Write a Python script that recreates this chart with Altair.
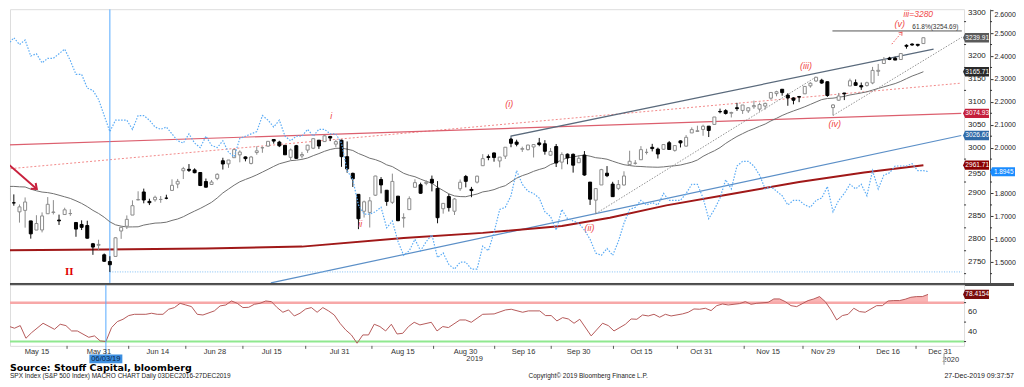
import altair as alt
import pandas as pd

# ---------------- data ----------------
# S&P 500 daily candles, trading-day index 0 (7 May 2019) .. 162 (26 Dec 2019)
opens = [2913.03, 2879.61, 2859.84, 2863.10, 2840.19, 2820.12, 2820.38, 2855.80, 2858.60, 2841.94,
         2854.02, 2856.06, 2836.70, 2832.41, 2830.03, 2790.25, 2786.94, 2766.15, 2751.53, 2762.64,
         2818.09, 2828.51, 2852.87, 2885.83, 2903.27, 2882.73, 2886.24, 2886.82, 2889.75, 2906.71,
         2920.55, 2949.60, 2952.71, 2951.42, 2945.78, 2926.07, 2919.66, 2932.94, 2971.41, 2964.66,
         2978.08, 2984.25, 2979.77, 2965.52, 2989.30, 2999.62, 3003.36, 3017.80, 3012.13, 3005.10,
         2978.87, 3004.26, 2981.93, 2994.74, 2998.77, 3016.26, 3013.25, 3024.47, 3007.66, 3016.22,
         2980.32, 2943.90, 2898.07, 2861.18, 2858.65, 2896.21, 2930.51, 2907.07, 2880.72, 2894.15,
         2846.20, 2864.74, 2913.48, 2919.01, 2922.04, 2930.94, 2911.07, 2866.70, 2893.14, 2861.28,
         2910.37, 2937.09, 2909.01, 2924.67, 2960.60, 2980.33, 2988.43, 2971.01, 2981.41, 3018.46,
         3012.21, 2996.41, 2995.67, 3001.50, 3010.36, 3008.42, 2983.50, 3002.43, 2968.35, 2985.73,
         2985.47, 2967.07, 2983.69, 2924.78, 2885.38, 2918.56, 2944.23, 2920.40, 2911.10, 2918.55,
         2963.07, 2965.81, 2973.61, 2989.68, 3000.77, 2996.84, 2996.48, 3010.73, 2994.01, 3014.78,
         3003.32, 3032.12, 3035.39, 3039.74, 3046.90, 3050.72, 3078.96, 3080.80, 3075.10, 3087.02,
         3081.25, 3080.33, 3089.28, 3084.18, 3090.75, 3107.92, 3117.91, 3127.45, 3114.66, 3108.49,
         3111.41, 3117.44, 3134.85, 3145.49, 3147.18, 3143.85, 3087.41, 3103.50, 3119.21, 3134.62,
         3141.86, 3135.36, 3135.75, 3141.23, 3166.65, 3183.63, 3195.40, 3195.21, 3192.32, 3223.33,
         3226.05, 3225.45, 3227.20]
highs = [2913.03, 2897.96, 2875.97, 2891.31, 2840.19, 2852.54, 2858.68, 2892.15, 2885.48, 2853.86,
         2868.88, 2865.47, 2836.70, 2841.36, 2840.51, 2792.03, 2799.00, 2768.98, 2763.07, 2804.49,
         2827.28, 2852.10, 2884.97, 2904.77, 2910.61, 2888.57, 2895.24, 2894.45, 2897.27, 2930.79,
         2931.74, 2958.06, 2964.15, 2954.92, 2946.52, 2932.59, 2929.30, 2943.98, 2977.93, 2973.21,
         2995.84, 2994.03, 2980.76, 2981.90, 3002.98, 3002.33, 3013.92, 3017.80, 3015.02, 3005.26,
         2998.28, 3006.02, 2990.71, 3005.90, 3019.59, 3016.31, 3027.98, 3025.61, 3017.19, 3017.40,
         3013.59, 2945.50, 2898.07, 2884.40, 2892.17, 2938.72, 2935.75, 2907.58, 2943.31, 2894.15,
         2856.67, 2893.63, 2931.00, 2923.63, 2928.73, 2939.08, 2927.01, 2879.27, 2898.79, 2890.03,
         2930.50, 2940.43, 2914.39, 2938.84, 2985.86, 2985.03, 2989.43, 2979.39, 3000.93, 3020.98,
         3017.33, 3002.19, 3006.21, 3007.83, 3021.19, 3016.37, 2999.15, 3007.98, 2989.82, 2987.28,
         2987.31, 2983.85, 2992.53, 2924.78, 2911.13, 2953.74, 2959.75, 2925.47, 2929.32, 2948.46,
         2993.28, 2972.84, 3003.28, 2997.54, 3008.29, 3000.00, 3007.33, 3014.57, 3004.78, 3016.07,
         3027.39, 3044.08, 3047.87, 3050.10, 3046.90, 3066.95, 3085.20, 3083.95, 3078.34, 3097.77,
         3093.09, 3088.33, 3102.61, 3098.06, 3098.20, 3120.46, 3124.17, 3127.64, 3118.97, 3110.11,
         3112.87, 3133.83, 3142.69, 3154.26, 3150.30, 3144.31, 3094.97, 3119.38, 3119.45, 3150.60,
         3148.87, 3142.12, 3143.98, 3176.28, 3182.68, 3197.71, 3198.22, 3198.48, 3205.48, 3225.65,
         3227.78, 3226.43, 3240.08]
lows = [2862.60, 2873.28, 2836.40, 2825.39, 2801.43, 2820.12, 2815.08, 2855.80, 2854.23, 2831.29,
        2854.02, 2851.11, 2805.49, 2820.19, 2801.58, 2766.06, 2776.74, 2750.52, 2728.81, 2762.64,
        2800.92, 2822.45, 2852.87, 2885.51, 2878.53, 2874.68, 2881.99, 2879.62, 2887.30, 2905.44,
        2911.43, 2931.50, 2946.87, 2944.05, 2916.01, 2912.99, 2918.57, 2929.05, 2952.22, 2955.92,
        2977.96, 2967.97, 2970.09, 2963.44, 2984.62, 2988.80, 3001.87, 3008.77, 3001.15, 2984.25,
        2973.09, 2975.86, 2976.65, 2988.56, 2996.82, 2997.24, 3012.59, 3014.30, 3000.94, 2958.08,
        2945.23, 2914.11, 2822.12, 2847.42, 2825.71, 2894.47, 2900.15, 2873.14, 2877.05, 2839.64,
        2825.51, 2864.74, 2913.48, 2899.60, 2917.91, 2904.51, 2834.97, 2856.00, 2860.59, 2853.05,
        2905.67, 2913.32, 2891.85, 2921.86, 2960.60, 2972.51, 2969.39, 2957.01, 2975.31, 3000.92,
        3002.90, 2990.67, 2993.73, 2978.57, 3003.16, 2984.68, 2982.23, 2957.73, 2952.86, 2963.71,
        2945.53, 2967.07, 2938.70, 2874.93, 2855.94, 2918.56, 2935.68, 2892.66, 2907.41, 2917.12,
        2963.07, 2962.94, 2973.61, 2985.20, 2991.79, 2976.31, 2995.35, 2995.04, 2991.21, 3000.42,
        3001.94, 3032.12, 3034.81, 3025.96, 3023.19, 3050.72, 3074.87, 3072.15, 3065.89, 3080.23,
        3073.58, 3075.82, 3084.73, 3078.80, 3083.26, 3104.60, 3112.06, 3113.47, 3091.41, 3094.55,
        3099.26, 3117.44, 3131.00, 3143.41, 3139.34, 3110.78, 3070.33, 3102.53, 3103.76, 3134.62,
        3135.46, 3126.09, 3133.21, 3138.47, 3156.51, 3183.63, 3191.03, 3191.14, 3192.32, 3216.03,
        3222.30, 3220.51, 3227.20]
closes = [2884.05, 2879.42, 2870.72, 2881.40, 2811.87, 2834.41, 2850.96, 2876.32, 2859.53, 2840.23,
          2864.36, 2856.27, 2822.24, 2826.06, 2802.39, 2783.02, 2788.86, 2752.06, 2744.45, 2803.27,
          2826.15, 2843.49, 2873.34, 2886.73, 2885.72, 2879.84, 2891.64, 2886.98, 2889.67, 2917.75,
          2926.46, 2954.18, 2950.46, 2945.35, 2917.38, 2913.78, 2924.92, 2941.76, 2964.33, 2973.01,
          2995.82, 2990.41, 2975.95, 2979.63, 2993.07, 2999.91, 3013.77, 3014.30, 3004.04, 2984.42,
          2995.11, 2976.61, 2985.03, 3005.47, 3019.56, 3003.67, 3025.86, 3020.97, 3013.18, 2980.38,
          2953.56, 2932.05, 2844.74, 2881.77, 2883.98, 2938.09, 2918.65, 2882.70, 2926.32, 2840.60,
          2847.60, 2888.68, 2923.65, 2900.51, 2924.43, 2922.95, 2847.11, 2878.38, 2869.16, 2887.94,
          2924.58, 2926.46, 2906.27, 2937.78, 2976.00, 2978.71, 2978.43, 2979.39, 3000.93, 3009.57,
          3007.39, 2997.96, 3005.70, 3006.73, 3006.79, 2992.07, 2991.78, 2966.60, 2984.87, 2977.62,
          2961.79, 2976.74, 2940.25, 2887.61, 2910.63, 2952.01, 2938.79, 2893.06, 2919.40, 2938.13,
          2970.27, 2966.15, 2995.68, 2989.69, 2997.95, 2986.20, 3006.72, 2995.99, 3004.52, 3010.29,
          3022.55, 3039.42, 3036.89, 3046.77, 3037.56, 3066.91, 3078.27, 3074.62, 3076.78, 3085.18,
          3093.08, 3087.01, 3091.84, 3094.04, 3096.63, 3120.46, 3122.03, 3120.18, 3108.46, 3103.54,
          3110.29, 3133.64, 3140.52, 3153.63, 3140.98, 3113.87, 3093.20, 3112.76, 3117.43, 3145.91,
          3135.96, 3132.52, 3141.63, 3168.57, 3168.80, 3191.45, 3192.52, 3191.14, 3205.37, 3221.22,
          3224.01, 3223.38, 3239.91]
# closes of the 19 sessions before 7 May (feed the 20-day average)
prior_closes = [2878.20, 2888.21, 2888.32, 2907.41, 2905.58, 2907.06, 2900.45, 2905.03, 2907.97, 2933.68,
                2927.25, 2926.17, 2939.88, 2943.03, 2945.83, 2923.73, 2917.52, 2945.64, 2932.47]
# US 10y yield (right-hand scale), index 0..163
yields = [2.45, 2.48, 2.45, 2.47, 2.40, 2.41, 2.37, 2.39, 2.39, 2.41,
          2.43, 2.38, 2.32, 2.32, 2.26, 2.25, 2.21, 2.14, 2.07, 2.12,
          2.12, 2.12, 2.08, 2.14, 2.14, 2.12, 2.09, 2.08, 2.09, 2.06,
          2.03, 2.02, 2.06, 2.02, 2.00, 2.05, 2.01, 2.00, 2.03, 1.98,
          1.96, 2.04, 2.05, 2.06, 2.07, 2.14, 2.12, 2.09, 2.12, 2.05,
          2.03, 2.05, 2.05, 2.08, 2.05, 2.08, 2.08, 2.06, 2.06, 2.02,
          1.90, 1.86, 1.75, 1.71, 1.71, 1.72, 1.74, 1.65, 1.68, 1.59,
          1.53, 1.55, 1.60, 1.55, 1.59, 1.62, 1.52, 1.54, 1.49, 1.47,
          1.50, 1.50, 1.47, 1.47, 1.57, 1.55, 1.63, 1.73, 1.74, 1.79,
          1.90, 1.84, 1.81, 1.80, 1.78, 1.72, 1.70, 1.64, 1.73, 1.69,
          1.68, 1.67, 1.64, 1.60, 1.54, 1.53, 1.56, 1.53, 1.59, 1.67,
          1.73, 1.74, 1.77, 1.75, 1.76, 1.75, 1.80, 1.77, 1.77, 1.77,
          1.80, 1.84, 1.84, 1.78, 1.69, 1.73, 1.78, 1.86, 1.82, 1.92,
          1.94, 1.94, 1.92, 1.88, 1.82, 1.83, 1.81, 1.79, 1.75, 1.77,
          1.77, 1.75, 1.74, 1.77, 1.78, 1.83, 1.72, 1.77, 1.80, 1.84,
          1.82, 1.84, 1.79, 1.90, 1.82, 1.88, 1.89, 1.92, 1.92, 1.92,
          1.93, 1.90, 1.90, 1.8945]
# RSI (lower panel)
rsi_idx = [0, 1, 2, 3, 4, 5, 7, 9, 10, 11, 12, 13, 15, 16, 17, 18, 19, 20, 21, 22,
           23, 25, 26, 27, 28, 29, 30, 31, 32, 33, 34, 35, 37, 38, 39, 40, 41, 42, 43, 44,
           45, 46, 47, 48, 49, 50, 51, 52, 53, 54, 55, 56, 57, 58, 59, 60, 61, 62, 63, 64,
           65, 66, 67, 68, 69, 70, 71, 72, 73, 75, 76, 77, 78, 80, 81, 82, 84, 86, 88, 89,
           91, 92, 94, 95, 96, 97, 98, 99, 100, 101, 103, 105, 106, 107, 109, 110, 111, 112, 113, 114,
           115, 116, 117, 119, 120, 121, 122, 123, 124, 125, 126, 127, 129, 130, 131, 132, 134, 135, 136, 137,
           138, 139, 141, 142, 143, 144, 145, 146, 147, 148, 149, 150, 151, 153, 154, 155, 156, 157, 158, 159,
           160, 161, 162]
rsi_val = [47.8, 45.7, 43.7, 46.4, 33.4, 39.2, 48.8, 42.6, 47.8, 46.4, 40.9, 40.9, 34.4, 35.8, 30.7, 30.0, 44.4, 50.5, 52.9, 56.7,
           58.0, 58.0, 59.1, 58.0, 58.0, 63.2, 64.9, 69.3, 67.6, 65.9, 58.0, 57.3, 61.5, 66.6, 67.6, 71.7, 69.3, 64.9, 65.2, 68.3,
           69.3, 71.7, 71.0, 64.9, 60.1, 62.5, 56.3, 59.1, 63.5, 64.9, 60.1, 64.9, 61.5, 57.3, 48.8, 42.0, 36.8, 28.3, 36.8, 36.8,
           47.8, 45.4, 40.9, 47.8, 37.8, 38.5, 45.4, 49.8, 47.1, 49.8, 40.9, 45.4, 44.4, 52.2, 52.2, 49.8, 58.0, 58.4, 62.5, 63.2,
           60.1, 61.5, 61.5, 56.7, 56.7, 51.2, 54.6, 53.2, 48.8, 52.9, 35.8, 48.8, 46.4, 40.9, 47.8, 53.2, 52.9, 57.3, 56.3, 58.0,
           55.0, 58.0, 56.3, 58.4, 60.1, 63.5, 63.2, 64.2, 61.8, 66.9, 68.6, 67.6, 69.0, 71.0, 68.3, 69.3, 70.3, 73.8, 73.8, 71.0,
           66.9, 65.9, 72.1, 73.8, 76.2, 71.0, 62.5, 52.2, 56.7, 58.0, 64.2, 60.8, 60.1, 66.9, 66.9, 71.7, 72.1, 72.1, 73.5, 75.5,
           76.2, 76.2, 78.4154]

# axis ticks (3250 sits under the 3239.91 tag, 1.9000 under the 1.8945 tag)
spx_labels = [2750, 2800, 2850, 2900, 3000, 3050, 3100, 3150, 3200]
spx_label_low = [2950]
spx_label_top = [3300]
spx_ticks = [2750, 2800, 2850, 2900, 2950, 3000, 3050, 3100, 3150, 3200, 3250, 3300]
spx_minor = [2725, 2775, 2825, 2875, 2925, 2975, 3025, 3075, 3125, 3175, 3225, 3275]
yld_labels = [1.5, 1.6, 1.7, 1.8, 2.0, 2.1, 2.2, 2.3, 2.4, 2.5, 2.6]
yld_minor = [1.45, 1.55, 1.65, 1.75, 1.85, 1.9, 1.95, 2.05, 2.15, 2.25, 2.35, 2.45, 2.55]
rsi_labels = [40, 60]
rsi_minor = [30, 50, 70, 80]

# x-axis labels and ticks (trading-day positions)
tick_labels = ["May 15", "May 31", "Jun 14", "Jun 28", "Jul 15", "Jul 31", "Aug 15", "Aug 30",
               "Sep 16", "Sep 30", "Oct 15", "Oct 31", "Nov 15", "Nov 29", "Dec 16", "Dec 31"]
tick_label_pos = [5.93, 16.78, 27.1, 37.1, 47.05, 58.95, 70.0, 81.0,
                  91.15, 100.8, 111.8, 122.3, 134.0, 143.6, 155.0, 164.1]
minor_tick_pos = [11.2, 22.0, 32.0, 42.0, 53.0, 64.6, 75.4, 86.1, 96.0, 106.9, 118.1, 129.8, 140.1, 150.0, 159.9]

# trend lines (trading-day index, SPX level)
red_solid_x, red_solid_y = [-0.3, 168.7], [3005.7, 3074.93]
red_dot_x, red_dot_y = [-0.3, 168.7], [2953.4, 3140.8]
blue_x, blue_y = [46.5, 168.7], [2704.8, 3026.6]
sma200_x = [0, 17, 35, 52, 70, 84, 98, 106.5, 116.5, 128, 140, 151.5, 162]
sma200_y = [2776, 2777.5, 2780, 2784, 2803, 2814, 2829, 2847, 2874, 2899, 2925, 2946, 2961.71]
chan_x, chan_y = [89.0, 89.0, 163.8], [3008.0, 3025.3, 3214.9]
dot1_x, dot1_y = [104, 143], [2855.9, 3154.3]
dot2_x, dot2_y = [146, 168.8], [3070.3, 3241.0]
fib_x, fib_y = [145.9, 168.8], [3254.69, 3254.69]
jlow_x, jlow_y = [18, 168.8], [2728.81, 2728.81]
arrow_x, arrow_y = [-0.2, 5.06], [2966.4, 2909.8]
varrow_x, varrow_y = [156.4, 158.2], [3225.9, 3252.0]
vline_idx = [18]

wave_txt = ["i", "ii", "(i)", "(ii)", "(iii)", "(iv)", "(v)"]
wave_idx = [57.2, 62.3, 88.7, 102.9, 141.2, 146.3, 157.8]
wave_val = [3068.9, 2833.5, 3095.0, 2824.8, 3177.9, 3051.5, 3269.5]

# ---------------- chart ----------------
W, H1, H2 = 955, 274, 61
YOFF = 26
FONT = "Liberation Sans"
XS = alt.Scale(domain=[1.207, 168.31], nice=False, zero=False)
SPX = alt.Scale(domain=[2704.8, 3302.2], nice=False, zero=False)
YLD = alt.Scale(domain=[1.4096, 2.6044], nice=False, zero=False)
RSI = alt.Scale(domain=[25.6, 88.2], nice=False, zero=False)
TAG = "M-1,0 L-0.84,-0.36 L1,-0.36 L1,0.36 L-0.84,0.36 Z"
RECT = "M-1,-0.27 L1,-0.27 L1,0.27 L-1,0.27 Z"
CHEV = "M-1,-0.8 L0,0 L-1,0.8"


def X():
    return alt.X("idx:Q", scale=XS, axis=None)


def Yq(field, scale, axis=None):
    return alt.Y(f"{field}:Q", scale=scale, axis=axis)


def one():
    return pd.DataFrame({"k": [0]})


def line(xs, ys, color, width=1.0, dash=None, scale=SPX, opacity=1.0):
    d = pd.DataFrame({"idx": xs, "v": ys, "o": list(range(len(xs)))})
    kw = dict(color=color, strokeWidth=width, clip=True, opacity=opacity)
    if dash:
        kw["strokeDash"] = dash
    return alt.Chart(d).mark_line(**kw).encode(x=X(), y=Yq("v", scale), order="o:Q")


def label(xs, ys, texts, color, size, scale=SPX, style="normal", weight="normal",
          font=FONT, align="center", baseline="middle"):
    d = pd.DataFrame({"idx": xs, "v": ys, "t": texts})
    return alt.Chart(d).mark_text(color=color, fontSize=size, fontStyle=style, fontWeight=weight,
                                  font=font, align=align, baseline=baseline, clip=False).encode(
        x=X(), y=Yq("v", scale), text="t:N")


def head(x, y, angle, color, size, sw=1.0, scale=SPX):
    d = pd.DataFrame({"idx": [x], "v": [y]})
    return alt.Chart(d).mark_point(shape=CHEV, size=size, angle=angle, filled=False, color=color,
                                   strokeWidth=sw, opacity=1, clip=False).encode(x=X(), y=Yq("v", scale))


def tag(v, text, fill, xc, scale, size=676, fs=6.6):
    d = pd.DataFrame({"v": [v], "t": [text]})
    box = alt.Chart(d).mark_point(shape=TAG, size=size, filled=True, color=fill, opacity=1,
                                  strokeWidth=0, clip=False).encode(x=alt.value(xc), y=Yq("v", scale))
    txt = alt.Chart(d).mark_text(color="white", fontSize=fs, font=FONT, align="center",
                                 baseline="middle", clip=False).encode(
        x=alt.value(xc + 1.2), y=Yq("v", scale), text="t:N")
    return [box, txt]


def minor(vals, scale, x0):
    d = pd.DataFrame({"v": vals})
    return alt.Chart(d).mark_rule(color="#333", strokeWidth=1, clip=False).encode(
        y=Yq("v", scale), x=alt.value(x0), x2=alt.value(x0 + 2))


def tick_text(vals, scale, x0, size=8, baseline="middle", dy=0):
    d = pd.DataFrame({"v": vals})
    return alt.Chart(d).mark_text(align="left", baseline=baseline, dy=dy, fontSize=size, font=FONT,
                                  color="#222", clip=False).encode(
        x=alt.value(x0), y=Yq("v", scale), text=alt.Text("v:Q", format="d"))


def free_text(text, x, y, size, color="#222", weight="normal", align="left", font=FONT):
    return alt.Chart(one()).mark_text(text=text, fontSize=size, fontWeight=weight, color=color,
                                      align=align, baseline="middle", font=font, clip=False).encode(
        x=alt.value(x), y=alt.value(y))


def yaxis(values, fmt, size, offset=0, flush=0, labels=True):
    kw = dict(orient="right", values=values, format=fmt, tickSize=3, tickColor="#333",
              domainColor="#666", labelColor="#222", labelFont=FONT, labelFontSize=size,
              labelPadding=1, labelOverlap=False, grid=False, title=None, labels=labels)
    if offset:
        kw["offset"] = offset
    if flush:
        kw["labelFlush"] = flush
    return alt.Axis(**kw)


spx_axis = yaxis(spx_ticks, "d", 8, labels=False)
yld_axis = yaxis(yld_labels, ".4f", 7, offset=YOFF, flush=3)
rsi_axis = yaxis(rsi_labels, "d", 8, labels=False)

cand = pd.DataFrame({"idx": list(range(len(closes))), "open": opens, "high": highs,
                     "low": lows, "close": closes})
UP = "datum.close >= datum.open"
wick = alt.Chart(cand).mark_rule(strokeWidth=1, clip=True).encode(
    x=X(), y=alt.Y("low:Q", scale=SPX, axis=spx_axis), y2="high:Q",
    color=alt.condition(UP, alt.value("#8c8c8c"), alt.value("#111111")))
body = alt.Chart(cand).mark_bar(width=3, clip=True, strokeWidth=1).encode(
    x=X(), y=alt.Y("open:Q", scale=SPX, axis=None), y2="close:Q",
    fill=alt.condition(UP, alt.value("#ffffff"), alt.value("#000000")),
    stroke=alt.condition(UP, alt.value("#8c8c8c"), alt.value("#000000")))

ma_src = pd.DataFrame({"idx": list(range(-len(prior_closes), 0)) + list(range(len(closes))),
                       "close": prior_closes + closes})
ma20 = alt.Chart(ma_src).transform_window(
    ma="mean(close)", frame=[-19, 0], sort=[alt.SortField("idx")]
).transform_filter("datum.idx >= 0").mark_line(color="#707070", strokeWidth=1, clip=True).encode(
    x=X(), y=Yq("ma", SPX))

vline_main = alt.Chart(pd.DataFrame({"idx": vline_idx})).mark_rule(
    color="#55aaff", strokeWidth=1, clip=True).encode(x=X())

separator = alt.Chart(one()).mark_rule(color="#4a4a4a", strokeWidth=3, clip=False).encode(
    x=alt.value(0), x2=alt.value(W + 50), y=alt.value(H1 + 1.5))

spx_layers = [
    line(red_dot_x, red_dot_y, "#f28a8a", 1, [2, 2]),
    line(red_solid_x, red_solid_y, "#dc5f6e", 1.2),
    line(blue_x, blue_y, "#5b8fc7", 1.2),
    line(sma200_x, sma200_y, "#a01818", 2),
    line(jlow_x, jlow_y, "#7fbff5", 1, [1, 1.5]),
    line(dot1_x, dot1_y, "#777777", 0.8, [1.5, 1.5]),
    line(dot2_x, dot2_y, "#777777", 0.8, [1.5, 1.5]),
    line(chan_x, chan_y, "#5a6a7c", 1.2),
    line(fib_x, fib_y, "#555555", 1),
    vline_main,
    ma20,
    wick,
    body,
    minor(spx_minor, SPX, W),
    tick_text(spx_labels, SPX, W + 4),
    tick_text(spx_label_low, SPX, W + 4, dy=3),
    tick_text(spx_label_top, SPX, W + 4, baseline="top", dy=-1),
    line(arrow_x, arrow_y, "#c8203c", 2),
    head(arrow_x[1], arrow_y[1], 41, "#c8203c", 90, 2),
    line(varrow_x, varrow_y, "#f06060", 1, [1.5, 1.5]),
    head(varrow_x[1], varrow_y[1], 310, "#f06060", 30, 1),
    label(wave_idx, wave_val, wave_txt, "#f04848", 9, style="italic"),
    label([161.1], [3292.0], ["iii=3280"], "#f04848", 8.5, style="italic"),
    label([10.8], [2728.8], ["II"], "#e00000", 11, weight="bold", font="Liberation Serif"),
    label([168.2], [3257.0], ["61.8%(3254.69)"], "#333333", 6.5, align="right", baseline="bottom"),
    separator,
]
spx_layers += tag(3239.91, "3239.91", "#5a5a5a", W + 12, SPX)
spx_layers += tag(3165.71, "3165.71", "#2a2a2a", W + 12, SPX)
spx_layers += tag(3074.93, "3074.93", "#c41e3a", W + 12, SPX)
spx_layers += tag(3026.60, "3026.60", "#2f6aa8", W + 12, SPX)
spx_layers += tag(2961.71, "2961.71", "#8b0000", W + 12, SPX)

ydf = pd.DataFrame({"idx": list(range(len(yields))), "y": yields})
yld_line = alt.Chart(ydf).mark_line(color="#5aabf5", strokeWidth=1.2, strokeDash=[1.5, 1.5],
                                     clip=True).encode(x=X(), y=alt.Y("y:Q", scale=YLD, axis=yld_axis))
yld_minor = minor(yld_minor, YLD, W + YOFF)
yld_tag = tag(yields[-1], "1.8945", "#1a8cff", W + YOFF + 12.5, YLD, size=625, fs=6.4)

main = alt.layer(alt.layer(*spx_layers), yld_line, yld_minor, *yld_tag).resolve_scale(
    y="independent").properties(width=W, height=H1)

# ---------- RSI panel ----------
rsi_df = pd.DataFrame({"idx": rsi_idx, "rsi": rsi_val})
x_axis = alt.Axis(orient="bottom", labels=False, ticks=False, domain=True, domainColor="#777",
                  grid=False, title=None)

rsi_area = alt.Chart(rsi_df).transform_calculate(
    upper="max(datum.rsi, 70)", base="70").mark_area(
    color="#f7a3a3", opacity=0.8, clip=True).encode(
    x=X(), y=Yq("upper", RSI), y2="base:Q")
lvl70 = alt.Chart(pd.DataFrame({"v": [70]})).mark_rule(color="#f7a8a8", strokeWidth=2.5).encode(
    y=Yq("v", RSI))
lvl30 = alt.Chart(pd.DataFrame({"v": [30]})).mark_rule(color="#90e890", strokeWidth=2).encode(
    y=Yq("v", RSI))
rsi_line = alt.Chart(rsi_df).mark_line(color="#b65a5a", strokeWidth=1, clip=True).encode(
    x=alt.X("idx:Q", scale=XS, axis=x_axis), y=alt.Y("rsi:Q", scale=RSI, axis=rsi_axis))
vline_rsi = alt.Chart(pd.DataFrame({"idx": vline_idx})).mark_rule(
    color="#55aaff", strokeWidth=1, clip=False).encode(x=X(), y=alt.value(0), y2=alt.value(H2 + 9))

lab_df = pd.DataFrame({"idx": tick_label_pos, "t": tick_labels})
date_labels = alt.Chart(lab_df).mark_text(fontSize=7.5, font=FONT, color="#333",
                                          baseline="middle", clip=False).encode(
    x=X(), y=alt.value(67), text="t:N")
minor_ticks = alt.Chart(pd.DataFrame({"idx": minor_tick_pos})).mark_rule(
    color="#555", clip=False).encode(x=X(), y=alt.value(H2), y2=alt.value(H2 + 3))

date_box = alt.Chart(pd.DataFrame({"idx": vline_idx})).mark_point(
    shape=RECT, size=1089, filled=True, color="#3d8fe0", opacity=1, strokeWidth=0,
    clip=False).encode(x=X(), y=alt.value(74))
date_txt = alt.Chart(pd.DataFrame({"idx": vline_idx, "t": ["06/03/19"]})).mark_text(
    fontSize=7.5, font=FONT, color="#0b1f44", baseline="middle", clip=False).encode(
    x=X(), y=alt.value(74), text="t:N")
year19 = alt.Chart(pd.DataFrame({"idx": [82.6], "t": ["2019"]})).mark_text(
    fontSize=7.5, font=FONT, color="#333", baseline="middle", clip=False).encode(
    x=X(), y=alt.value(74), text="t:N")
year20 = alt.Chart(pd.DataFrame({"idx": [166.0], "t": ["2020"]})).mark_text(
    fontSize=7.5, font=FONT, color="#333", baseline="middle", clip=False).encode(
    x=X(), y=alt.value(75), text="t:N")
year_bar = alt.Chart(pd.DataFrame({"idx": [164.8]})).mark_rule(
    color="#bbbbbb", strokeWidth=1.5, clip=False).encode(x=X(), y=alt.value(69), y2=alt.value(80))

rsi_layers = [rsi_area, lvl70, lvl30, rsi_line, minor(rsi_minor, RSI, W),
              tick_text(rsi_labels, RSI, W + 4), vline_rsi,
              date_labels, minor_ticks, date_box, date_txt, year19, year20, year_bar,
              free_text("Source: Stouff Capital, bloomberg", 0, 83, 9.5, "#000000", "bold", font="DejaVu Sans"),
              free_text("SPX Index (S&P 500 Index) MACRO CHART  Daily 03DEC2016-27DEC2019", 0, 91, 6.5),
              free_text("Copyright\u00a9 2019 Bloomberg Finance L.P.", 519, 91, 6.5),
              free_text("27-Dec-2019 09:37:57", 1005, 91, 7, align="right")]
rsi_layers += tag(78.4154, "78.4154", "#7a0a0a", W + 12, RSI)

rsi = alt.layer(*rsi_layers).properties(width=W, height=H2)

chart = alt.vconcat(main, rsi, spacing=2, bounds="flush").properties(padding=0).configure_view(
    strokeWidth=0).configure(font=FONT)

chart.save("out.html", embed_options={"renderer": "svg", "actions": False})
